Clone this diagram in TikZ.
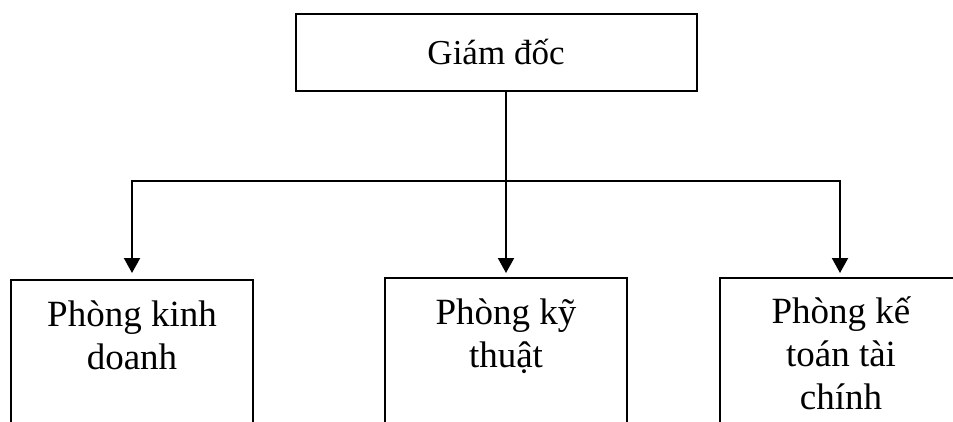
\documentclass[tikz,border=0pt]{standalone}
\usepackage{fontspec}
\setmainfont{Liberation Serif}
\usetikzlibrary{arrows.meta}
\begin{document}
\begin{tikzpicture}[x=1pt,y=-1pt,
  line width=2pt,
  >={Triangle[length=15pt,width=16pt]},
  chief/.style={draw, rectangle, minimum width=401pt, minimum height=76.5pt,
    inner sep=0pt, text height=25pt, text depth=0pt,
    font=\fontsize{35}{42}\selectfont},
  dept/.style={draw, rectangle, inner sep=0pt, anchor=north,
    font=\fontsize{37}{43}\selectfont}]
\useasboundingbox (0,0) rectangle (953,422);
\clip (0,0) rectangle (953,422);

% director
\node[chief] (gd) at (496,52.5) {Giám đốc};

% departments (boxes run past the lower edge)
\node[dept] (kd) at (132,279)
  {\parbox[t][200pt][t]{242pt}{\centering\rule{0pt}{46pt}Phòng kinh\\doanh}};
\node[dept] (kt) at (506,277)
  {\parbox[t][200pt][t]{242pt}{\centering\rule{0pt}{46pt}Phòng kỹ\\thuật}};
\node[dept] (kk) at (841,277)
  {\parbox[t][200pt][t]{242pt}{\centering\rule{0pt}{45pt}Phòng kế\\toán tài\\chính}};

% distribution bus
\coordinate (bus) at (0,181);
\draw[<->, shorten <=6pt, shorten >=4pt]
  (kd.north) -- (kd.north |- bus) -- ([xshift=-1pt]kk.north |- bus) -- ([xshift=-1pt]kk.north);
\draw[->, shorten >=4pt] (gd.south -| kt.north) -- (kt.north);
\end{tikzpicture}
\end{document}
